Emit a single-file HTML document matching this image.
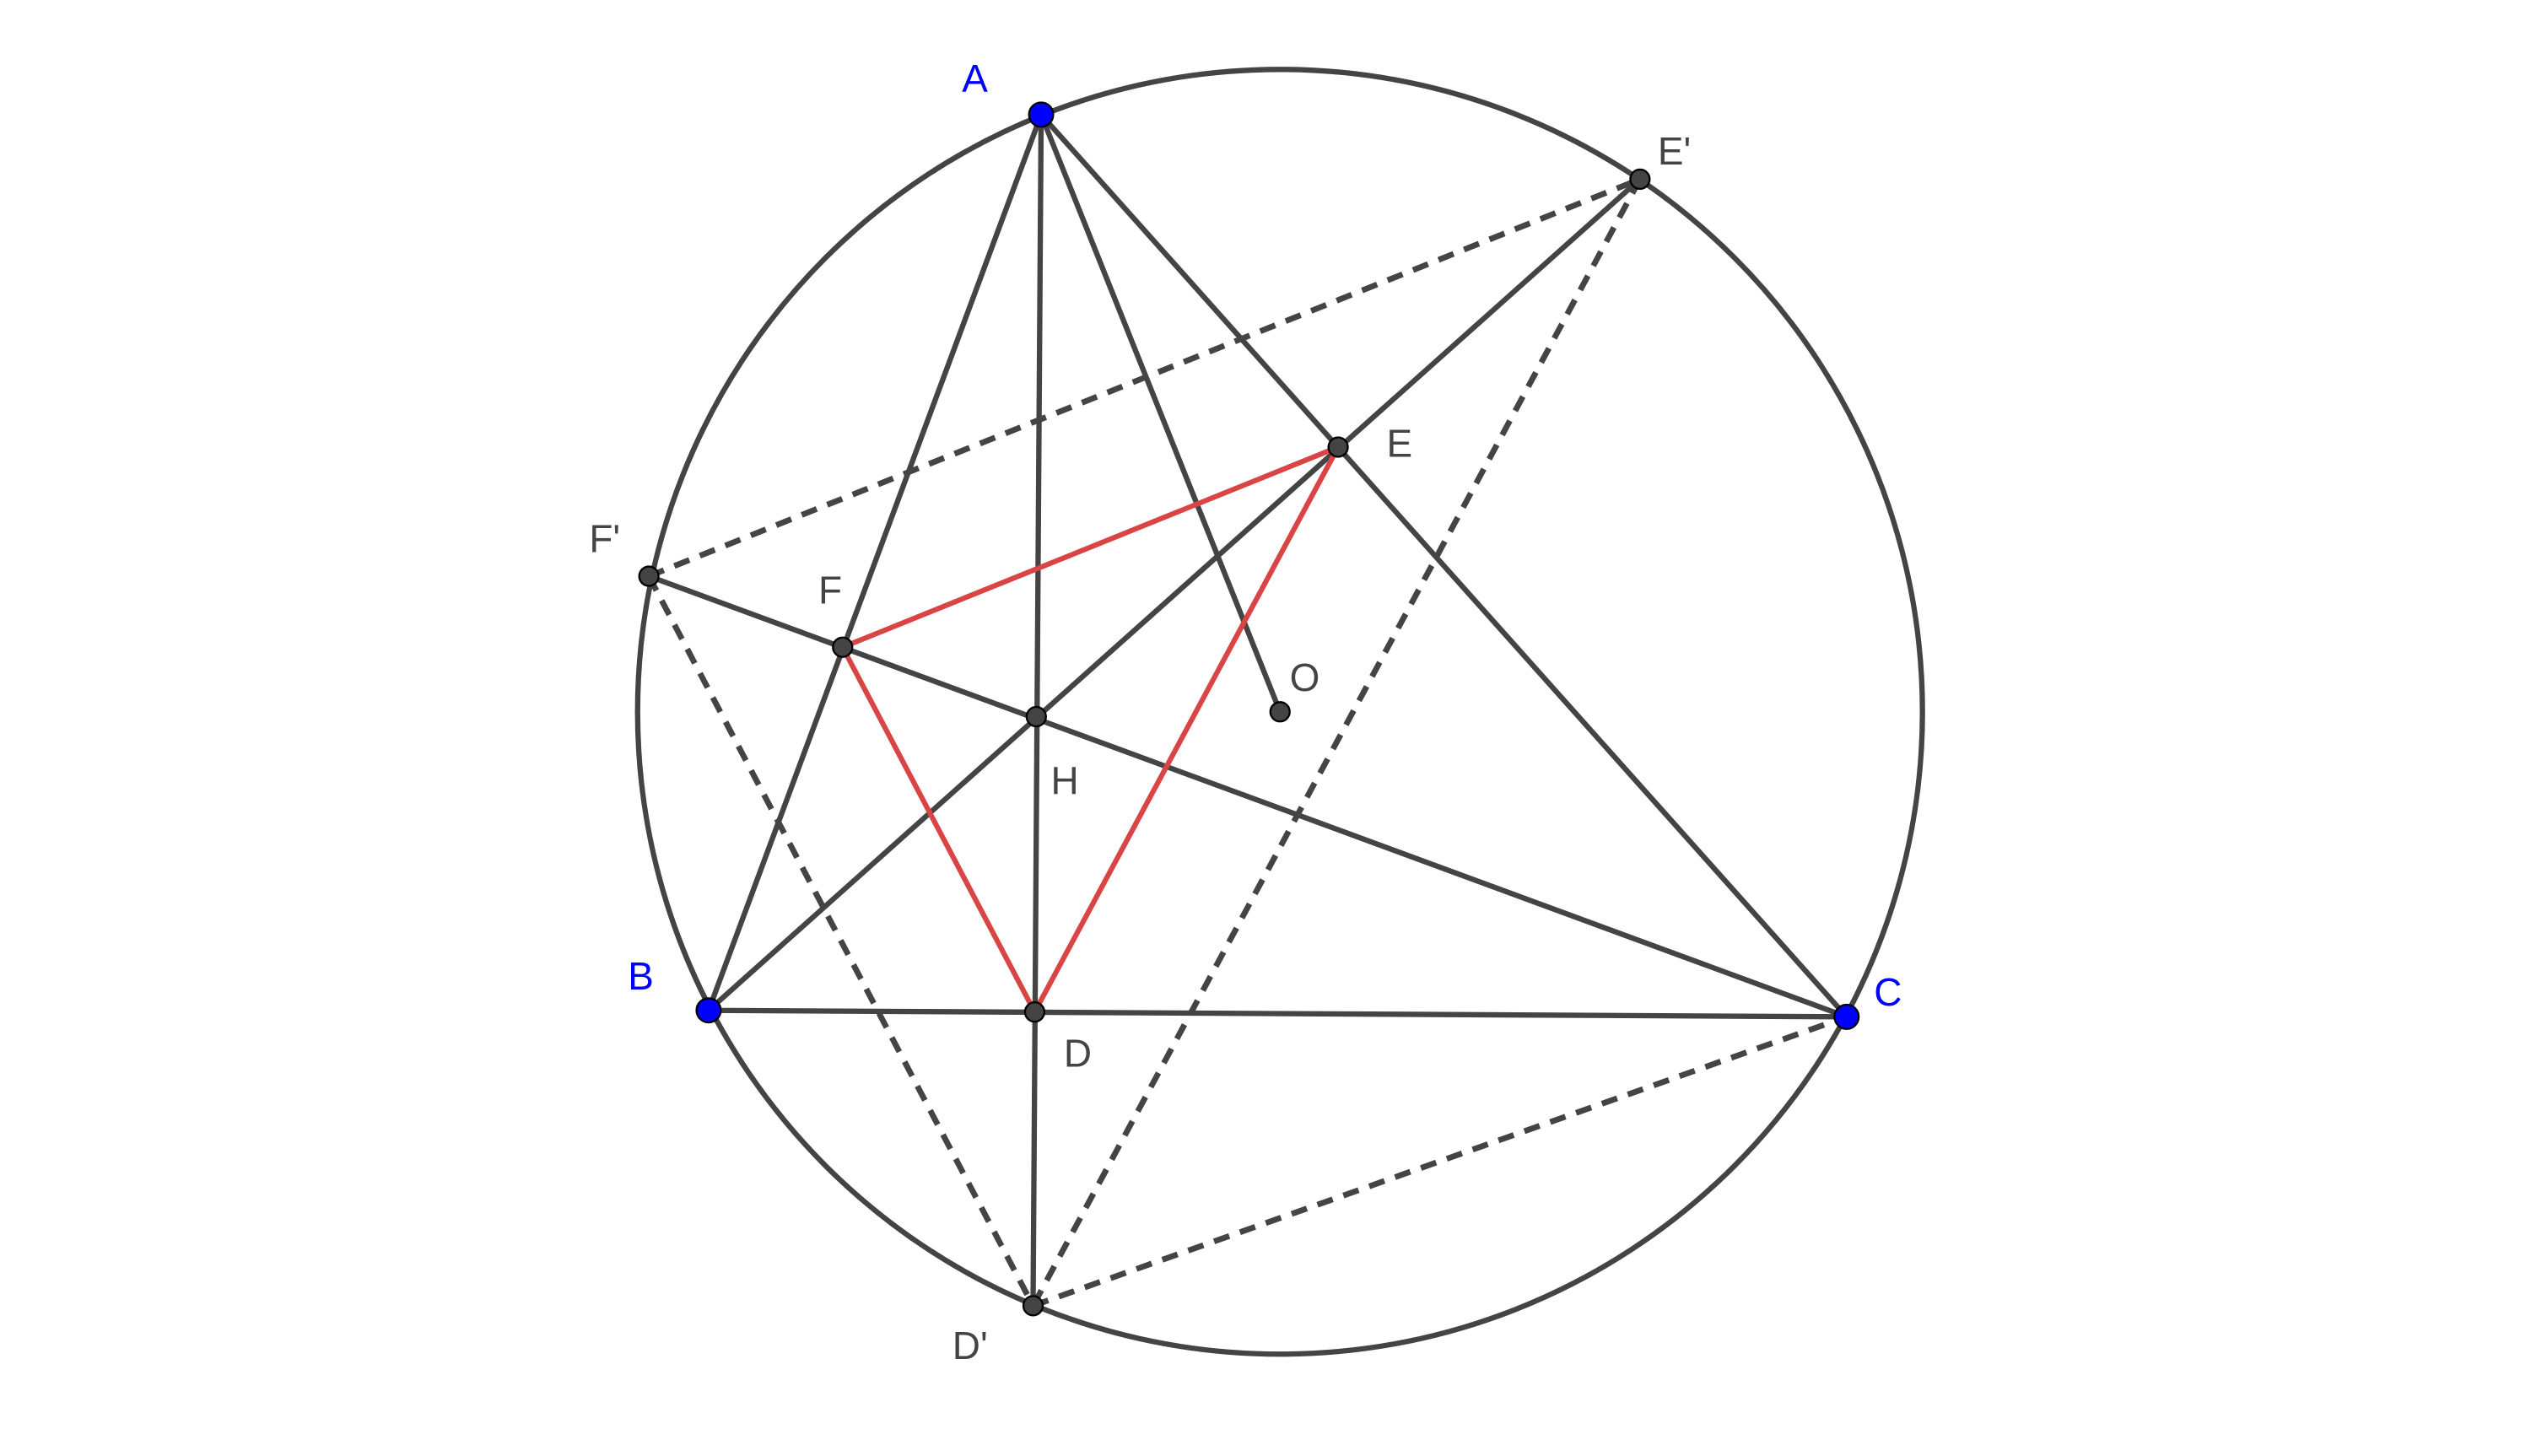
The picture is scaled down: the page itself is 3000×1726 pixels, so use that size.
<!DOCTYPE html>
<html><head><style>html,body{margin:0;padding:0;background:#fff}svg{display:block}</style></head>
<body>
<svg width="3000" height="1726" viewBox="0 0 1568 902.1" xmlns="http://www.w3.org/2000/svg">
<g fill="none" stroke="#444" stroke-width="3.3" stroke-linecap="round">
<circle cx="793" cy="441" r="398"/>
<line x1="645" y1="71" x2="439" y2="626"/>
<line x1="645" y1="71" x2="1144" y2="630"/>
<line x1="439" y1="626" x2="1144" y2="630"/>
<line x1="645" y1="71" x2="640" y2="809"/>
<line x1="645" y1="71" x2="793" y2="441"/>
<line x1="439" y1="626" x2="1016" y2="111"/>
<line x1="1144" y1="630" x2="402" y2="357"/>
</g>
<g fill="none" stroke="#444" stroke-width="3.6" stroke-dasharray="10,7">
<line x1="402" y1="357" x2="1016" y2="111"/>
<line x1="1016" y1="111" x2="640" y2="809"/>
<line x1="402" y1="357" x2="640" y2="809"/>
<line x1="640" y1="809" x2="1144" y2="630"/>
</g>
<g fill="none" stroke="#d94444" stroke-width="3.2">
<line x1="641" y1="627" x2="829" y2="277"/>
<line x1="829" y1="277" x2="522" y2="401"/>
<line x1="522" y1="401" x2="641" y2="627"/>
</g>
<g fill="#444" stroke="#000" stroke-width="1.2">
<circle cx="641" cy="627" r="6"/><circle cx="829" cy="277" r="6"/><circle cx="522" cy="401" r="6"/>
<circle cx="642" cy="444" r="6"/><circle cx="793" cy="441" r="6"/><circle cx="640" cy="809" r="6"/>
<circle cx="1016" cy="111" r="6"/><circle cx="402" cy="357" r="6"/>
</g>
<g fill="#0000ff" stroke="#000" stroke-width="1.2">
<circle cx="645" cy="71" r="7.5"/><circle cx="439" cy="626" r="7.5"/><circle cx="1144" cy="630" r="7.5"/>
</g>
<g font-family="Liberation Sans, sans-serif" font-size="24" fill="#444">
<text x="596" y="57" fill="#0000ff">A</text>
<text x="389" y="613" fill="#0000ff">B</text>
<text x="1161" y="623" fill="#0000ff">C</text>
<text x="659" y="661">D</text>
<text x="859" y="283">E</text>
<text x="507" y="374">F</text>
<text x="651" y="492">H</text>
<text x="799" y="428">O</text>
<text x="590" y="842">D'</text>
<text x="1027" y="102">E'</text>
<text x="365" y="342">F'</text>
</g>
</svg>
</body></html>
